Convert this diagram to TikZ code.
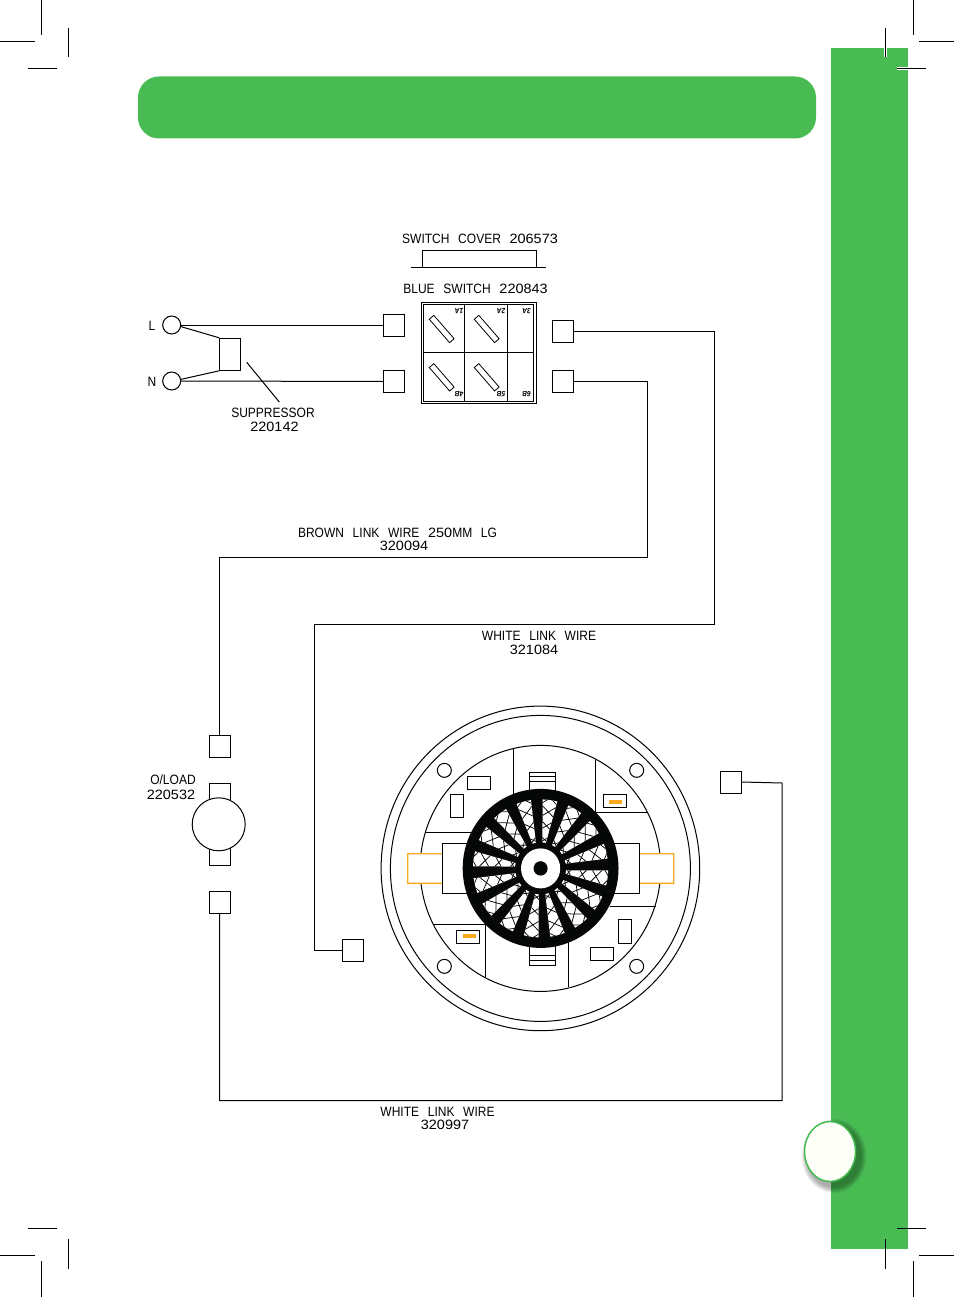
\documentclass[tikz,border=0pt]{standalone}
\usepackage{fontspec}
\usetikzlibrary{shapes.geometric}
\setmainfont{Liberation Sans}[WordSpace=2.6,FakeStretch=0.89]
\newfontfamily\dgf{Liberation Sans}[FakeStretch=1.07]
\definecolor{gr}{RGB}{73,187,83}
\definecolor{org}{RGB}{249,170,30}
\definecolor{ivory2}{RGB}{255,255,250}
\definecolor{fanblack}{RGB}{5,8,6}
\tikzset{
  wire/.style={line width=1pt,line join=miter},
  term/.style={draw,line width=1pt,minimum width=21pt,minimum height=22pt,inner sep=0pt},
  lab/.style={inner sep=0pt,font=\fontsize{13.5pt}{15pt}\selectfont},
  tiny2/.style={inner sep=0pt,rotate=180,font=\fontsize{7.5pt}{8pt}\selectfont\bfseries\itshape},
  ring/.style={draw,line width=1pt,inner sep=0pt,circle,minimum size=18pt,fill=white},
  crop/.style={line width=0.9pt},
  part/.style={line width=1pt}
}
\begin{document}
\begin{tikzpicture}[x=1pt,y=-1pt]
\useasboundingbox (0,0) rectangle (954,1297);
\fill[white] (0,0) rectangle (954,1297);
% green areas
\fill[gr,rounded corners=21pt] (138,76.5) rectangle (816,138.5);
\fill[gr] (831,48) rectangle (908,1249);
% crop marks
\draw[crop] (41.5,0)--(41.5,35) (0,41.5)--(35,41.5) (68.5,28)--(68.5,57) (28,68.5)--(57,68.5);
\draw[crop] (913.5,0)--(913.5,35) (919,41.5)--(954,41.5);
\draw[white,line width=2.4pt] (885.5,48)--(885.5,57) (897,68.5)--(908,68.5);
\draw[crop] (885.5,28)--(885.5,57) (897,68.5)--(926,68.5);
\draw[crop] (41.5,1261)--(41.5,1297) (0,1255.5)--(35,1255.5) (68.5,1239)--(68.5,1269) (28,1228)--(57,1228);
\draw[crop] (913.5,1261)--(913.5,1297) (919,1255.5)--(954,1255.5);
\draw[crop] (885.5,1239)--(885.5,1269) (897,1228)--(926,1228);
% page badge
\foreach \s in {0,...,9}{
  \fill[black,opacity=0.035] (834,1156) ellipse[x radius={29.5-\s*0.6+3},y radius={34-\s*0.6+3}];
}
\node[draw=gr,line width=1.5pt,fill=ivory2,ellipse,inner sep=0pt,minimum width=51pt,minimum height=60pt] (badge) at (830,1151.5) {};
% texts
\node[lab] (tcover) at (480,239) {SWITCH COVER {\dgf 206573}};
\node[lab] (tblue) at (475.5,289) {BLUE SWITCH {\dgf 220843}};
\node[lab] (tL) at (152,325.5) {L};
\node[lab] (tN) at (152,382) {N};
\node[lab] (tsup) at (273,413) {SUPPRESSOR};
\node[lab] (tsupn) at (274.5,427) {\dgf 220142};
\node[lab] (tbrown) at (397.5,533) {BROWN LINK WIRE {\dgf 250}MM LG};
\node[lab] (tbrownn) at (404,545.5) {\dgf 320094};
\node[lab] (twh) at (539,636) {WHITE LINK WIRE};
\node[lab] (twhn) at (534,649.5) {\dgf 321084};
\node[lab] (twh2) at (437.5,1112) {WHITE LINK WIRE};
\node[lab] (twh2n) at (445,1124.5) {\dgf 320997};
\node[lab] (tol) at (173,780) {O/LOAD};
\node[lab] (toln) at (171,794.5) {\dgf 220532};
% switch cover
\draw[part] (411,267.3)--(546,267.3) (422,267.3)--(422,250.7)--(536,250.7)--(536,267.3);
% switch
\draw[part] (421.3,302.3) rectangle (536,403.7);
\draw[part] (423.7,304.7) rectangle (533.7,401.3);
\draw[part] (464.7,304.7)--(464.7,401.3) (507.3,304.7)--(507.3,401.3) (423.7,352.7)--(533.7,352.7);
\foreach \p in {(441.7,329),(486.7,329),(441.7,377.3),(486.7,377.3)}{
  \draw[line width=0.8pt,shift={\p},rotate=-49] (-15.5,-3) rectangle (15.5,3);
}
\node[tiny2] (s1) at (459,311) {1A};
\node[tiny2] (s2) at (501,311) {2A};
\node[tiny2] (s3) at (526.5,311) {3A};
\node[tiny2] (s4) at (459,394.5) {4B};
\node[tiny2] (s5) at (501,394.5) {5B};
\node[tiny2] (s6) at (526.5,394.5) {6B};
% terminals
\node[term] (a1) at (394,325) {};
\node[term] (a2) at (394,381.5) {};
\node[term] (b1) at (563.2,331) {};
\node[term] (b2) at (563.2,381.5) {};
\node[term] (c1) at (219.7,746.7) {};
\node[term] (c2) at (219.7,902) {};
\node[term] (d1) at (353,950.5) {};
\node[term] (d2) at (730.5,782) {};
% mains
\node[ring] (L) at (171.7,325) {};
\node[ring] (N) at (171.7,381) {};
\node[draw,line width=1pt,inner sep=0pt,minimum width=21pt,minimum height=32pt] (sup) at (230.2,354.3) {};
\draw[wire] (L.east)--(a1.west);
\draw[wire] (N.east)--(a2.west);
\draw[wire] (L.-10)--(sup.north west);
\draw[wire] (N.10)--(sup.south west);
\coordinate (ls) at (246.7,362.3);
\coordinate (le) at (279.3,402);
\draw[wire] (ls)--(le);
% wires
\coordinate (w1) at (714.7,331);
\coordinate (w2) at (714.7,624.3);
\coordinate (w3) at (314.7,624.3);
\coordinate (w4) at (314.7,950.5);
\draw[wire] (b1.east)--(w1)--(w2)--(w3)--(w4)--(d1.west);
\coordinate (x1) at (647.5,381.5);
\coordinate (x2) at (647.5,557.5);
\coordinate (x3) at (219.7,557.5);
\draw[wire] (b2.east)--(x1)--(x2)--(x3)--(c1.north);
\coordinate (y1) at (219.7,1100.5);
\coordinate (y2) at (782,1100.5);
\coordinate (y3) at (782,783);
\draw[wire] (c2.south)--(y1)--(y2)--(y3)--(d2.east);
% overload
\draw[part] (209.3,783.3) rectangle (230,865);
\node[draw,circle,fill=white,line width=1pt,inner sep=0pt,minimum size=53pt] (ol) at (218.7,824.3) {};
% motor: outlines
\draw[part] (540.4,868.4) ellipse[x radius=159.3,y radius=162.3];
\draw[part] (540.4,868.4) ellipse[x radius=150,y radius=153];
\draw[part] (540.4,868.4) ellipse[x radius=120.3,y radius=123];
\begin{scope}[shift={(370,700)},x=0.33333pt,y=-0.33333pt]
\fill[white] (113,461) rectangle (216,550) (808,461) rectangle (911,550);
\fill[org] (111,459) rectangle (216,463) (111,548) rectangle (216,552) (111,459) rectangle (115,552);
\fill[org] (808,459) rectangle (913,463) (808,548) rectangle (913,552) (909,459) rectangle (913,552);
\draw[part] (429,147)--(429,290) (677,180)--(677,337)--(833,337) (165,397)--(320,397)
  (720,618)--(857,618) (190,674)--(346,674)--(346,832) (594,720)--(594,862);
\draw[part] (216,431) rectangle (808,580);
\draw[part] (478,217) rectangle (556,280) (478,230)--(556,230) (478,243)--(556,243);
\draw[part] (478,730) rectangle (556,795) (478,766)--(556,766) (478,780)--(556,780);
\foreach \p in {(223,211),(800,211),(223,799),(800,799)}{\draw[part] \p circle[radius=21];}
\draw[part] (293,230) rectangle (361,269);
\draw[part] (241,283) rectangle (280,352);
\draw[part] (700,282) rectangle (769,322);
\fill[org] (717,300) rectangle (756,311);
\draw[part] (260,691) rectangle (329,730);
\fill[org] (279,702) rectangle (318,713);
\draw[part] (744,658) rectangle (783,729);
\draw[part] (662,741) rectangle (730,781);
\end{scope}
% fan
\begin{scope}[shift={(540.6,868.4)},x=1pt,y=1pt,xscale=0.98]
\fill[fanblack] (0,0) circle[radius=79.5];
\foreach \k in {0,...,15}{
  \pgfmathsetmacro\ang{82-22.5*\k}
  \begin{scope}[rotate=\ang]
    \fill[white] (26,-1.8)--(-6.3:69) arc[start angle=-6.3,end angle=6.3,radius=69]--(26,1.8)--cycle;
    \begin{scope}
      \clip (26,-1.8)--(-6.3:69) arc[start angle=-6.3,end angle=6.3,radius=69]--(26,1.8)--cycle;
      \foreach \u in {22,36,50,64}{
        \draw[line width=0.75pt,fanblack] (\u,-9)--(\u+14,9) (\u+14,-9)--(\u,9);
      }
    \end{scope}
  \end{scope}
}
\fill[white] (0,0) circle[radius=20];
\fill[fanblack] (0,0) circle[radius=7.2];
\end{scope}
\end{tikzpicture}
\end{document}
